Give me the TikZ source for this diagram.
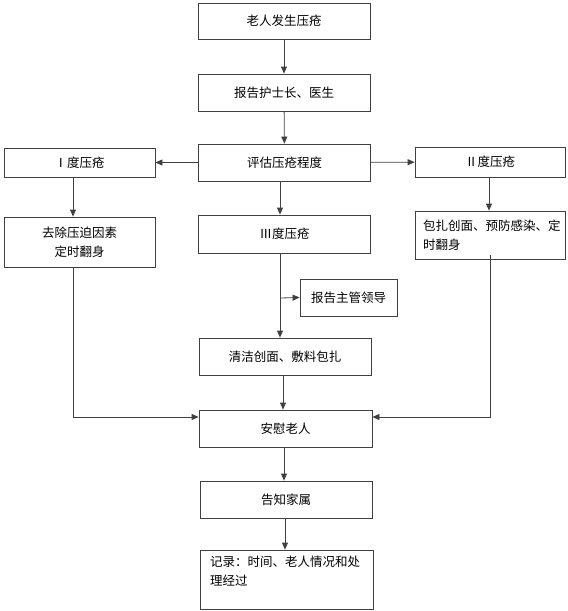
\documentclass[tikz,border=0pt]{standalone}
\usepackage{fontspec}
\setmainfont{Noto Sans CJK SC}
\usetikzlibrary{arrows.meta}
\definecolor{linec}{HTML}{404040}
\begin{document}
\begin{tikzpicture}[x=1pt,y=-1pt,
  font=\fontsize{12.5}{19}\selectfont,
  box/.style={draw=linec, line width=0.8pt, rectangle, inner sep=0pt, align=center},
  mid/.style={box, minimum width=172pt, minimum height=37pt},
  side/.style={box, minimum width=151pt},
  conn/.style={draw=linec, line width=0.8pt, -{Triangle[length=7pt,width=6pt]}},
  plain/.style={draw=linec, line width=0.8pt}]
\useasboundingbox (0,0) rectangle (568,611);
\node[mid, minimum height=36pt] (b1) at (284,21) {老人发生压疮};
\node[mid] (b2) at (284,92.5) {报告护士长、医生};
\node[mid] (b3) at (284.5,162.5) {评估压疮程度};
\node[side, minimum height=29pt] (g1) at (79.5,162.5) {Ⅰ度压疮};
\node[side, minimum width=150pt, minimum height=30pt] (g2) at (490,162) {Ⅱ度压疮};
\node[side, minimum height=50pt] (r1) at (79.5,242) {去除压迫因素\\定时翻身};
\node[mid, minimum height=38pt] (g3) at (284.5,234) {Ⅲ度压疮};
\node[side, minimum width=150pt, minimum height=48pt, align=left, text width=134pt] (r2) at (490,235) {包扎创面、预防感染、定\\时翻身};
\node[box, minimum width=97pt, minimum height=37pt] (rep) at (348.5,297.5) {报告主管领导};
\node[mid] (clean) at (285,356.5) {清洁创面、敷料包扎};
\node[mid, minimum width=173pt] (comf) at (285.5,428.5) {安慰老人};
\node[mid] (fam) at (286,499.5) {告知家属};
\node[mid, minimum width=173pt, minimum height=59pt, align=left, text width=153pt] (rec) at (286.5,579.5) {记录：时间、老人情况和处\\理经过\\[-2pt]\mbox{}};
\coordinate (br) at (280,298);
\draw[conn] (b1) -- (b2);
\draw[conn] (b2) -- (b3);
\draw[conn] (b3) -- (g1);
\draw[conn] (b3) -- (g2);
\draw[conn] (g1.south -| 73,0) -- (r1.north -| 73,0);
\draw[conn] (b3.south -| br) -- (g3.north -| br);
\draw[conn] (g2.south -| 489,0) -- (r2.north -| 489,0);
\draw[conn] (g3.south -| br) -- (clean.north -| br);
\draw[conn] (br) -- (rep.west);
\draw[conn] (r1.south -| 73,0) |- (comf.west |- 0,417);
\draw[conn] ([yshift=4pt]r2.south -| 490,0) |- (comf.east |- 0,417);
\draw[conn] (clean.south -| 283,0) -- (comf.north -| 283,0);
\draw[conn] (comf.south -| 284,0) -- (fam.north -| 284,0);
\draw[conn] (fam.south -| 285,0) -- (rec.north -| 285,0);
\end{tikzpicture}
\end{document}
